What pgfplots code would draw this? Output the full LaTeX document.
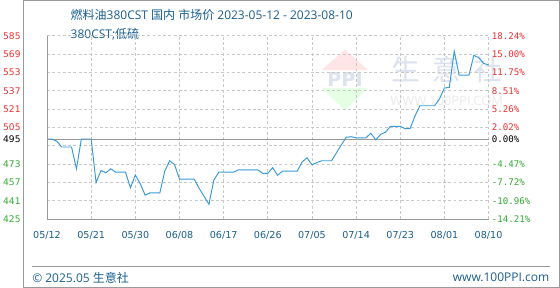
\documentclass[border=0pt]{standalone}
\usepackage{pgfplots}
\pgfplotsset{compat=1.18}
\usepackage{fontspec}
\setmainfont{DejaVu Sans}
\newfontfamily\cjk{Noto Sans CJK SC}
\newfontfamily\lat{Open Sans}
\newfontfamily\mono{DejaVu Sans Mono}
\definecolor{titleblue}{HTML}{1A5E8E}
\definecolor{linec}{HTML}{3A9AD9}
\definecolor{upred}{HTML}{F03030}
\definecolor{dngreen}{HTML}{33AA33}
\definecolor{gridc}{HTML}{C8C8C8}
\definecolor{axisc}{HTML}{9A9A9A}
\definecolor{wmblue}{HTML}{DCE2EE}
\definecolor{wmgray}{HTML}{EBEBEB}
\begin{document}
\begin{tikzpicture}[x=1pt,y=1pt]
\fill[white] (0,0) rectangle (560,300);
\draw[axisc, line width=1pt] (0.5,0.5) rectangle (559.5,299.5);
% watermark
\fill[red!10] (336,248.3) -- (360,227) -- (311.7,227) -- cycle;
\node[text=wmblue, font=\fontsize{20}{20}\selectfont\bfseries] at (336,217) {PPI};
\fill[green!10] (311.7,208.3) -- (360,208.3) -- (336,185) -- cycle;
\node[inner sep=0pt, text=wmblue, font=\cjk\fontsize{30}{30}\selectfont] at (399,228) {生};
\node[inner sep=0pt, text=wmblue, font=\cjk\fontsize{30}{30}\selectfont] at (442,228) {意};
\node[inner sep=0pt, text=wmblue, font=\cjk\fontsize{30}{30}\selectfont] at (485,228) {社};
\node[inner sep=0pt, text=wmgray, font=\lat\fontsize{13.5}{14}\selectfont] at (442,195) {WWW.100PPI.COM};
% titles
\node[anchor=base west, inner sep=0pt, text=titleblue, font=\lat\fontsize{12.5}{14}\selectfont] at (50,280)
  {{\cjk 燃料油}380CST {\cjk 国内} {\cjk 市场价} 2023-05-12 - 2023-08-10};
\node[anchor=base west, inner sep=0pt, text=titleblue, font=\lat\fontsize{12.5}{14}\selectfont] at (50,260)
  {380CST;{\cjk 低硫}};
% footer
\draw[axisc, line width=0.8pt] (10,22) -- (550,22);
\node[anchor=west, inner sep=0pt, text=titleblue, font=\lat\fontsize{12.5}{14}\selectfont] at (10,11)
  {© 2025.05 {\cjk 生意社}};
\node[anchor=east, inner sep=0pt, text=titleblue, font=\lat\fontsize{12.5}{14}\selectfont] at (549,11)
  {www.100PPI.com};
% main axis
\begin{axis}[
  at={(50,60)}, anchor=south west,
  width=460pt, height=191pt, scale only axis,
  xmin=0, xmax=90, ymin=425, ymax=585,
  axis x line*=bottom, axis y line*=left,
  axis line style={axisc, line width=1pt, -},
  major tick length=0pt,
  xtick={0,9,...,90},
  xticklabels={05/12,05/21,05/30,06/08,06/17,06/26,07/05,07/14,07/23,08/01,08/10},
  xticklabel style={text=titleblue, font=\fontsize{10}{12}\selectfont, yshift=-9pt},
  ytick={425,441,457,473,489,505,521,537,553,569,585},
  yticklabels={\textcolor{dngreen}{425},\textcolor{dngreen}{441},\textcolor{dngreen}{457},\textcolor{dngreen}{473},{},\textcolor{upred}{505},\textcolor{upred}{521},\textcolor{upred}{537},\textcolor{upred}{553},\textcolor{upred}{569},\textcolor{upred}{585}},
  yticklabel style={font=\fontsize{9.5}{11}\selectfont, xshift=-24pt},
  extra y ticks={495},
  extra y tick labels={495},
  extra y tick style={grid=major, major grid style={solid, axisc, line width=1pt}},
  grid=major,
  major grid style={gridc, line width=0.8pt, dash pattern=on 3pt off 2.5pt},
  clip=false,
]
\addplot[linec, line width=1pt] coordinates {
(0,495)(1,495)(2,493)(3,488)(4,488)(5,488)(6,469)(7,495)(8,495)(9,495)
(10,457)(11,467.5)(12,465.5)(13,469)(14,466)(15,466)(16,466)(17,452.4)(18,463.6)(19,456)
(20,446)(21,448)(22,448)(23,448)(24,467)(25,476)(26,472.5)(27,460)(28,460)(29,460)
(30,460)(31,452)(32,445)(33,438)(34,459)(35,466)(36,466)(37,466)(38,466)(39,468)
(40,468)(41,468)(42,468)(43,468)(44,465)(45,465)(46,470)(47,463.3)(48,467)(49,467)
(50,467)(51,467)(52,475)(53,478.6)(54,472.5)(55,474.4)(56,476)(57,476)(58,476)(59,483)
(60,490)(61,496.5)(62,497)(63,496)(64,496)(65,496)(66,500)(67,494.3)(68,499)(69,501)
(70,506)(71,506)(72,506)(73,504)(74,504)(75,515)(76,524)(77,524)(78,524)(79,524)
(80,530)(81,539.5)(82,540)(83,571.6)(84,550.7)(85,550.7)(86,550.7)(87,568)(88,566)(89,561)
(90,559.6)};
\end{axis}
% right axis
\begin{axis}[
  at={(50,60)}, anchor=south west,
  width=460pt, height=191pt, scale only axis,
  xmin=0, xmax=90, ymin=425, ymax=585,
  axis x line=none, axis y line*=right,
  axis line style={draw=none},
  major tick length=0pt,
  ytick={425,441,457,473,495,505,521,537,553,569,585},
  yticklabels={\textcolor{dngreen}{-14.21\%},\textcolor{dngreen}{-10.96\%},\textcolor{dngreen}{-7.72\%},\textcolor{dngreen}{-4.47\%},0.00\%,\textcolor{upred}{2.02\%},\textcolor{upred}{5.26\%},\textcolor{upred}{8.51\%},\textcolor{upred}{11.75\%},\textcolor{upred}{15.00\%},\textcolor{upred}{18.24\%}},
  yticklabel style={font=\mono\fontsize{9.5}{11}\selectfont, anchor=west},
]
\end{axis}
\end{tikzpicture}
\end{document}
